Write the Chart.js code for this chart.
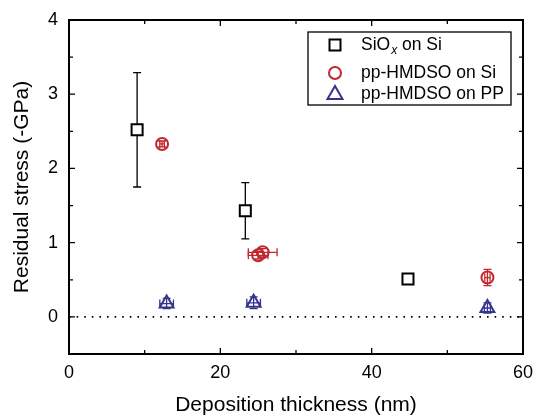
<!DOCTYPE html>
<html>
<head>
<meta charset="utf-8">
<script src="https://cdn.jsdelivr.net/npm/chart.js@4.4.1/dist/chart.umd.min.js"></script>
<style>
  html, body { margin: 0; padding: 0; background: #fff; }
  #wrap { width: 533px; height: 418px; }
</style>
</head>
<body>
<div id="wrap"><canvas id="stressChart"></canvas></div>
<script>
// SiOx on Si
const sioxX = [9.0, 23.3, 44.8];
const sioxY = [2.52, 1.43, 0.51];
const sioxErrY = [0.77, 0.38, 0.05];
const sioxErrX = [0, 0, 0.35];

// pp-HMDSO on Si
const hmdsoSiX = [12.3, 25.0, 25.6, 55.3];
const hmdsoSiY = [2.33, 0.83, 0.87, 0.53];
const hmdsoSiErrY = [0.04, 0.05, 0.05, 0.11];
const hmdsoSiErrX = [0.3, 1.3, 1.9, 0.35];

// pp-HMDSO on PP
const hmdsoPPX = [12.9, 24.4, 55.3];
const hmdsoPPY = [0.18, 0.19, 0.12];
const hmdsoPPErrY = [0.07, 0.08, 0.07];
const hmdsoPPErrX = [0.9, 0.9, 0.4];

const zeroLineX = [0, 60];
const xTicks = [0, 20, 40, 60];
const yTicks = [0, 1, 2, 3, 4];

const RED = "#c1272d";
const BLUE = "#34348c";
const FONT = "'Liberation Sans', Arial, sans-serif";

function points(xs, ys) {
  return xs.map((x, i) => ({ x: x, y: ys[i] }));
}

// draws error bars under the markers
const errorBars = {
  id: "errorBars",
  beforeDatasetsDraw(chart) {
    const ctx = chart.ctx;
    const xs = chart.scales.x;
    const ys = chart.scales.y;
    chart.data.datasets.forEach((ds) => {
      if (!ds.errY) return;
      ctx.save();
      ctx.strokeStyle = ds.borderColor;
      ctx.lineWidth = 1.3;
      ds.data.forEach((p, i) => {
        const px = xs.getPixelForValue(p.x);
        const py = ys.getPixelForValue(p.y);
        const ey = ds.errY[i];
        const ex = ds.errX[i];
        ctx.beginPath();
        if (ey > 0) {
          const top = ys.getPixelForValue(p.y + ey);
          const bot = ys.getPixelForValue(p.y - ey);
          ctx.moveTo(px, top); ctx.lineTo(px, bot);
          ctx.moveTo(px - 4, top); ctx.lineTo(px + 4, top);
          ctx.moveTo(px - 4, bot); ctx.lineTo(px + 4, bot);
        }
        if (ex > 0) {
          const l = xs.getPixelForValue(p.x - ex);
          const r = xs.getPixelForValue(p.x + ex);
          ctx.moveTo(l, py); ctx.lineTo(r, py);
          ctx.moveTo(l, py - 4); ctx.lineTo(l, py + 4);
          ctx.moveTo(r, py - 4); ctx.lineTo(r, py + 4);
        }
        ctx.stroke();
      });
      ctx.restore();
    });
  },
};

function drawMarker(ctx, style, x, y, color) {
  ctx.save();
  ctx.strokeStyle = color;
  ctx.lineWidth = 2;
  ctx.beginPath();
  if (style === "rect") {
    ctx.rect(x - 5.5, y - 5.5, 11, 11);
  } else if (style === "circle") {
    ctx.arc(x, y, 6, 0, Math.PI * 2);
  } else {
    ctx.moveTo(x, y - 8);
    ctx.lineTo(x + 7.5, y + 5);
    ctx.lineTo(x - 7.5, y + 5);
    ctx.closePath();
  }
  ctx.stroke();
  ctx.restore();
}

// frame, inward ticks, axis titles, legend
const frame = {
  id: "frame",
  afterDraw(chart) {
    const ctx = chart.ctx;
    const a = chart.chartArea;
    const xs = chart.scales.x;
    const ys = chart.scales.y;
    ctx.save();
    ctx.strokeStyle = "#000";
    ctx.lineWidth = 2;
    ctx.strokeRect(a.left, a.top, a.right - a.left, a.bottom - a.top);

    ctx.lineWidth = 1.3;
    ctx.beginPath();
    for (let v = 0; v <= 60; v += 10) {
      const px = xs.getPixelForValue(v);
      const len = v % 20 === 0 ? 6 : 4;
      ctx.moveTo(px, a.bottom); ctx.lineTo(px, a.bottom - len);
      ctx.moveTo(px, a.top); ctx.lineTo(px, a.top + len);
    }
    for (let v = -0.5; v <= 4; v += 0.5) {
      const py = ys.getPixelForValue(v);
      const len = Number.isInteger(v) ? 6 : 4;
      ctx.moveTo(a.left, py); ctx.lineTo(a.left + len, py);
      ctx.moveTo(a.right, py); ctx.lineTo(a.right - len, py);
    }
    ctx.stroke();

    // axis titles
    ctx.fillStyle = "#000";
    ctx.font = "21px " + FONT;
    ctx.textAlign = "center";
    ctx.textBaseline = "middle";
    ctx.fillText("Deposition thickness (nm)", (a.left + a.right) / 2, 405);
    ctx.save();
    ctx.translate(22, (a.top + a.bottom) / 2);
    ctx.rotate(-Math.PI / 2);
    ctx.fillText("Residual stress (-GPa)", 0, 0);
    ctx.restore();

    // legend
    ctx.lineWidth = 1.3;
    ctx.strokeRect(308, 32, 203, 73);
    const rows = [
      { style: "rect", color: "#000", y: 45 },
      { style: "circle", color: RED, y: 73 },
      { style: "triangle", color: BLUE, y: 94 },
    ];
    rows.forEach((r) => drawMarker(ctx, r.style, 335, r.y, r.color));
    ctx.textAlign = "left";
    ctx.font = "17.5px " + FONT;
    let tx = 361;
    ctx.fillText("SiO", tx, 45);
    tx += ctx.measureText("SiO").width;
    ctx.font = "italic 12px " + FONT;
    ctx.fillText("x", tx + 1, 51);
    tx += ctx.measureText("x").width + 1;
    ctx.font = "17.5px " + FONT;
    ctx.fillText(" on Si", tx, 45);
    ctx.fillText("pp-HMDSO on Si", 361, 73);
    ctx.fillText("pp-HMDSO on PP", 361, 94);
    ctx.restore();
  },
};

new Chart(document.getElementById("stressChart"), {
  type: "scatter",
  data: {
    datasets: [
      {
        label: "zero",
        type: "line",
        data: zeroLineX.map((x) => ({ x: x, y: 0 })),
        borderColor: "#000",
        borderWidth: 1.6,
        borderDash: [1.6, 6],
        pointRadius: 0,
      },
      {
        label: "SiOx on Si",
        data: points(sioxX, sioxY),
        errX: sioxErrX,
        errY: sioxErrY,
        pointStyle: "rect",
        pointRadius: 7.8,
        pointBorderWidth: 2,
        borderColor: "#000",
        backgroundColor: "#fff",
      },
      {
        label: "pp-HMDSO on Si",
        data: points(hmdsoSiX, hmdsoSiY),
        errX: hmdsoSiErrX,
        errY: hmdsoSiErrY,
        pointStyle: "circle",
        pointRadius: 6,
        pointBorderWidth: 2,
        borderColor: RED,
        backgroundColor: "rgba(0,0,0,0)",
      },
      {
        label: "pp-HMDSO on PP",
        data: points(hmdsoPPX, hmdsoPPY),
        errX: hmdsoPPErrX,
        errY: hmdsoPPErrY,
        pointStyle: "triangle",
        pointRadius: 8,
        pointBorderWidth: 2,
        borderColor: BLUE,
        backgroundColor: "rgba(0,0,0,0)",
      },
    ],
  },
  options: {
    responsive: true,
    maintainAspectRatio: false,
    animation: false,
    layout: { padding: { top: 20, right: 10, left: 0, bottom: 0 } },
    plugins: { legend: { display: false }, tooltip: { enabled: false } },
    scales: {
      x: {
        type: "linear",
        min: 0,
        max: 60,
        grid: { display: false, drawTicks: false },
        border: { display: false },
        afterBuildTicks: (s) => { s.ticks = xTicks.map((v) => ({ value: v })); },
        afterFit: (s) => {
          s.height = 64;
          s.paddingLeft = 0;
          s.paddingRight = 0;
        },
        ticks: { padding: 8, color: "#000", font: { family: FONT, size: 18 } },
      },
      y: {
        type: "linear",
        min: -0.5,
        max: 4,
        grid: { display: false, drawTicks: false },
        border: { display: false },
        afterBuildTicks: (s) => { s.ticks = yTicks.map((v) => ({ value: v })); },
        afterFit: (s) => {
          s.width = 69;
          s.paddingTop = 0;
          s.paddingBottom = 0;
        },
        ticks: { padding: 11, color: "#000", font: { family: FONT, size: 18 } },
      },
    },
  },
  plugins: [errorBars, frame],
});
</script>
</body>
</html>
